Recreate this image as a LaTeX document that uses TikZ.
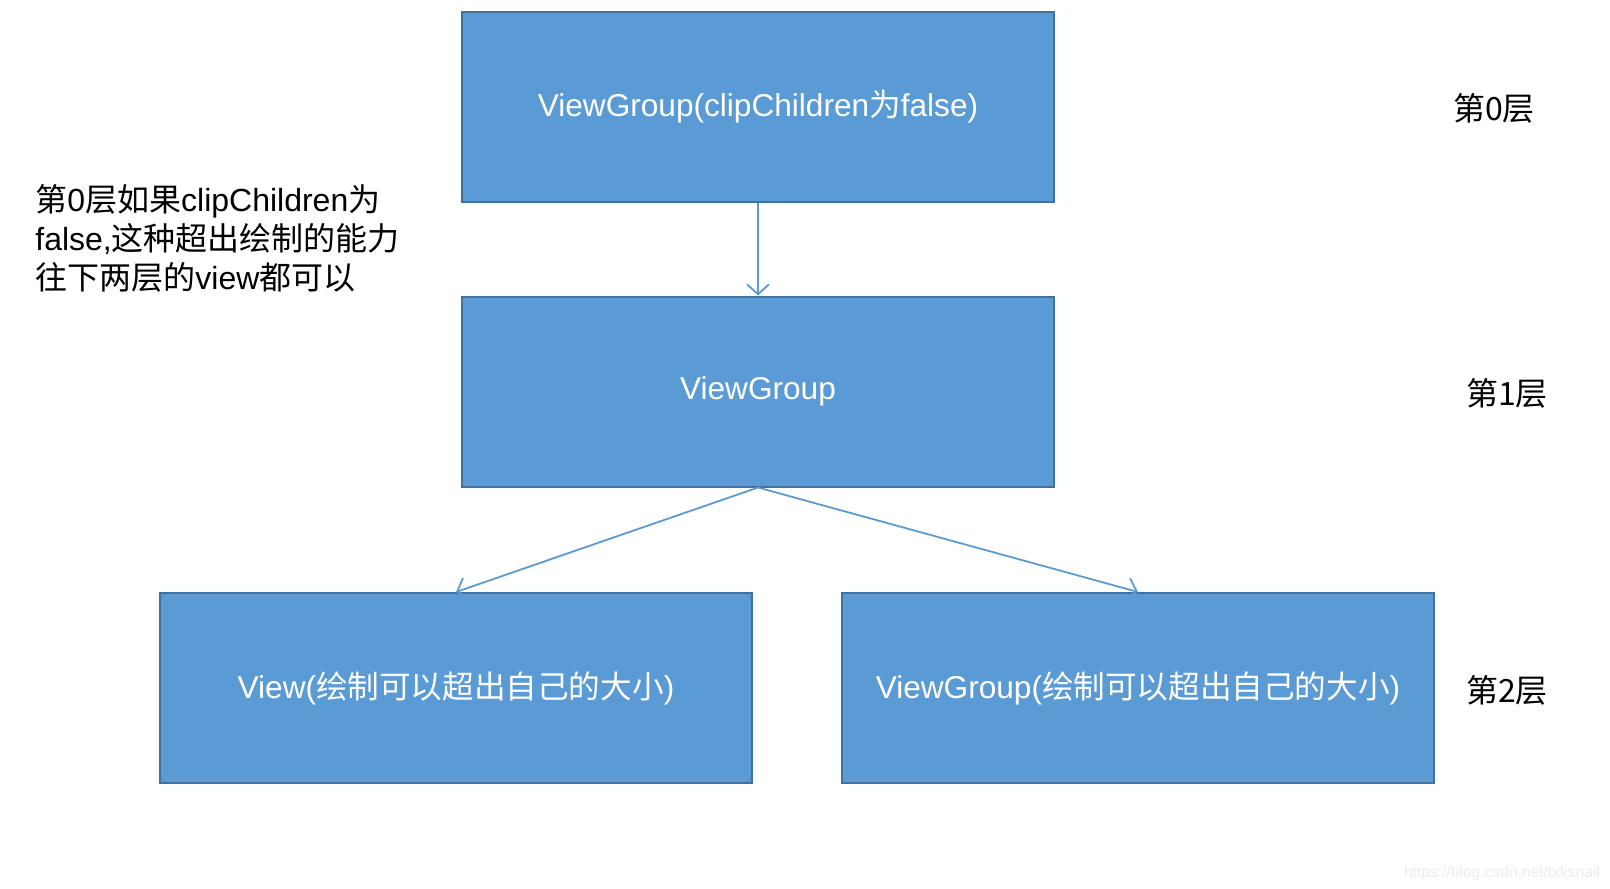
\documentclass[tikz,border=0pt]{standalone}
\usepackage{fontspec}
\setmainfont{Liberation Sans}
\newfontfamily\cjk{Noto Sans CJK SC}
\usetikzlibrary{arrows.meta, positioning}
\definecolor{boxfill}{RGB}{91, 155, 213}
\definecolor{boxline}{RGB}{65, 113, 156}
\definecolor{marktext}{RGB}{236, 236, 236}
\newcommand{\zh}[1]{{\cjk #1}}
\begin{document}
\begin{tikzpicture}[
    x=0.5pt, y=-0.5pt,
    layerbox/.style={rectangle, draw=boxline, line width=1pt, fill=boxfill, minimum width=296pt, minimum height=95pt, align=center, text=white, font=\fontsize{15.8}{19.5}\selectfont, inner sep=0pt},
    layerlabel/.style={font=\fontsize{16}{19.5}\selectfont\cjk, text=black},
    arrow/.style={-{Straight Barb[length=5pt, width=11pt]}, line width=0.9pt, draw=boxfill}
]
    \useasboundingbox (0, 0) rectangle (1610, 888);

    % Layer 0
    \node[layerbox] (top) at (758, 107) {ViewGroup(clipChildren\zh{为}false)};

    % Layer 1
    \node[layerbox] (mid) at (758, 391.5) {ViewGroup};

    % Layer 2
    \node[layerbox] (left) at (456, 688) {View(\zh{绘制可以超出自己的大小})};
    \node[layerbox] (right) at (1138, 688) {ViewGroup(\zh{绘制可以超出自己的大小})};

    % Arrows
    \draw[arrow] (top.south) -- (mid.north);
    \draw[arrow] (mid.south) -- (left.north);
    \draw[arrow] (mid.south) -- (right.north);

    % Layer labels
    \node[layerlabel] (l0) at (1494, 108) {第0层};
    \node[layerlabel] (l1) at (1507, 393) {第1层};
    \node[layerlabel] (l2) at (1507, 690) {第2层};

    % Note
    \node[anchor=north west, align=left, inner sep=0pt, font=\fontsize{16}{19.5}\selectfont] (note) at (35, 184)
        {\zh{第}0\zh{层如果}clipChildren\zh{为}\\false,\zh{这种超出绘制的能力}\\\zh{往下两层的}view\zh{都可以}};

    % Watermark
    \node[font=\fontsize{7.8}{9}\selectfont, text=marktext] (mark) at (1502, 873) {https://blog.csdn.net/txksnail};
\end{tikzpicture}
\end{document}
